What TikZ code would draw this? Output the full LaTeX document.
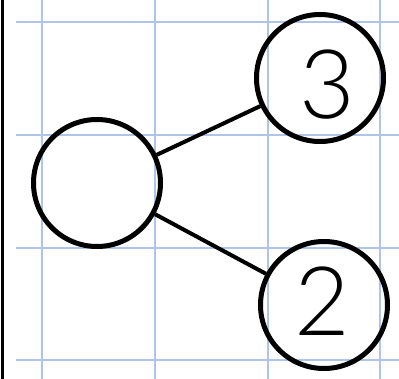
\documentclass[tikz,border=0pt]{standalone}
\usepackage{fontspec}
\setmainfont{Lato}[UprightFont=* Light]
\begin{document}
\begin{tikzpicture}[x=1pt,y=-1pt,
  gridline/.style={draw={rgb,255:red,175;green,196;blue,230},line width=1.6pt},
  bubble/.style={circle,draw=black,line width=5pt,minimum size=127pt,inner sep=0pt,fill=none},
  link/.style={draw=black,line width=4pt},
  digit/.style={font=\fontsize{96}{96}\selectfont,inner sep=0pt}]
\useasboundingbox (0,0) rectangle (399,379);
\fill[white] (0,0) rectangle (399,379);
% grid
\foreach \y in {22,135,248,360} \draw[gridline] (16,\y) -- (399,\y);
\foreach \x in {42,155,268,380} \draw[gridline] (\x,0) -- (\x,379);
% left border
\draw[black,line width=3pt] (2,0) -- (2,379);
% nodes
\node[bubble] (L) at (97,183) {};
\node[bubble] (T) at (320,78) {};
\node[bubble] (B) at (324,305) {};
\node[digit] (t3) at (327,85) {3};
\node[digit] (t2) at (322,301) {2};
\draw[link] (L) -- (T);
\draw[link] (L) -- (B);
\end{tikzpicture}
\end{document}
